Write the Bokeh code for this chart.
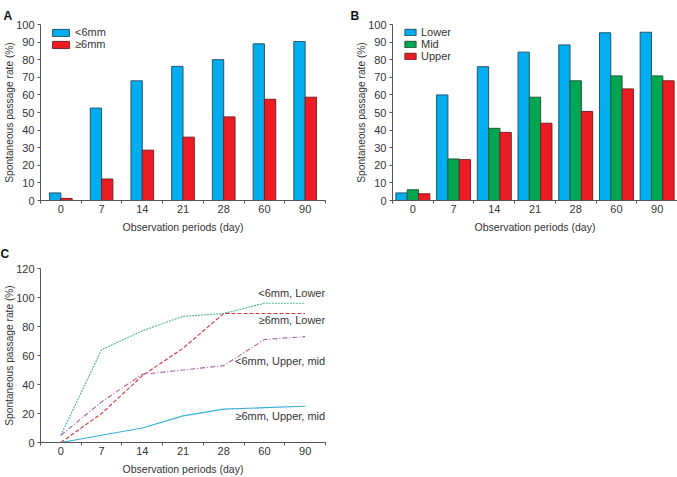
import numpy as np
from bokeh.plotting import figure
from bokeh.layouts import column, row
from bokeh.models import Range1d, FixedTicker, Legend, LegendItem
from bokeh.embed import file_html
from bokeh.resources import INLINE
from bokeh.core.properties import value

# ---------------- data ----------------
periods = ["0", "7", "14", "21", "28", "60", "90"]

# Panel A: by stone size
a_lt6 = [4.3, 52.5, 68.0, 76.2, 80.0, 89.0, 90.3]
a_ge6 = [1.2, 12.2, 28.6, 36.0, 47.5, 57.5, 58.7]

# Panel B: by location
b_lower = [4.3, 60.0, 76.0, 84.3, 88.4, 95.3, 95.6]
b_mid = [6.1, 23.6, 41.0, 58.7, 68.0, 70.8, 70.8]
b_upper = [3.8, 23.2, 38.7, 43.9, 50.6, 63.4, 68.0]

# Panel C: size x location
c_lt6_lower = [5.0, 64.0, 77.0, 87.0, 89.0, 96.0, 96.0]
c_ge6_lower = [0.0, 20.0, 46.0, 65.0, 89.0, 89.0, 89.0]
c_lt6_upmid = [5.0, 28.0, 47.0, 50.0, 53.0, 71.0, 73.0]
c_ge6_upmid = [0.0, 5.0, 10.0, 18.4, 23.0, 24.0, 25.0]
c_labels = ["<6mm, Lower", "\u22656mm, Lower", "<6mm, Upper, mid", "\u22656mm, Upper, mid"]
c_label_y = [103.4, 84.2, 56.2, 18.5]

FONT = "Liberation Sans"
TXT = "#333333"
AX = "#555555"
BLUE, BLUE_D = "#00AEEF", "#24566e"
RED, RED_D = "#ED1C24", "#7a1f22"
GREEN, GREEN_D = "#00A651", "#1d5a36"


def make_fig(letter, width, height, left, right, top, bottom, ymax, ystep, title_offset, title_standoff):
    n = len(periods)
    p = figure(width=width, height=height, output_backend="svg", toolbar_location=None,
               x_range=Range1d(0, n), y_range=Range1d(0, ymax),
               min_border_left=left, min_border_right=right,
               min_border_top=top, min_border_bottom=bottom, title=letter)
    p.outline_line_color = None
    p.grid.visible = False
    p.background_fill_color = "white"
    p.border_fill_color = "white"

    p.title.align = "left"
    p.title.vertical_align = "top"
    p.title.offset = title_offset
    p.title.standoff = title_standoff
    p.title.text_font = FONT
    p.title.text_font_size = "12px"
    p.title.text_font_style = "bold"
    p.title.text_color = "#111111"

    pos = np.arange(n) + 0.5
    xa = p.xaxis[0]
    xa.ticker = FixedTicker(ticks=list(pos), minor_ticks=list(range(n + 1)))
    xa.major_label_overrides = {float(x): lab for x, lab in zip(pos, periods)}
    xa.major_tick_line_color = None
    xa.major_tick_out = 0
    xa.major_tick_in = 0
    xa.minor_tick_line_color = AX
    xa.minor_tick_out = 3
    xa.minor_tick_in = 0
    xa.major_label_standoff = 1
    xa.axis_line_color = AX
    xa.axis_label = "Observation periods (day)"
    xa.axis_label_standoff = 5

    ya = p.yaxis[0]
    ya.ticker = FixedTicker(ticks=list(range(0, ymax + 1, ystep)))
    ya.major_tick_out = 3
    ya.major_tick_in = 0
    ya.major_tick_line_color = AX
    ya.minor_tick_line_color = None
    ya.major_label_standoff = 3
    ya.axis_line_color = AX
    ya.axis_label = "Spontaneous passage rate (%)"
    ya.axis_label_standoff = -2

    for ax in (xa, ya):
        ax.major_label_text_font = FONT
        ax.major_label_text_font_size = "11px"
        ax.major_label_text_color = TXT
        ax.axis_label_text_font = FONT
        ax.axis_label_text_font_size = "10.5px"
        ax.axis_label_text_font_style = "normal"
        ax.axis_label_text_color = TXT
    ya.axis_label_text_font_size = "10.2px"
    return p, pos


# ---------------- Panel A ----------------
pa, pos = make_fig("A", 340, 240, 40, 15, 24, 40, 100, 10, -37, 0)
w = 0.278
ra1 = pa.vbar(x=pos - w / 2, top=a_lt6, width=w, fill_color=BLUE, line_color=BLUE_D, line_width=1)
ra2 = pa.vbar(x=pos + w / 2, top=a_ge6, width=w, fill_color=RED, line_color=RED_D, line_width=1)
leg_a = Legend(items=[LegendItem(label="<6mm", renderers=[ra1]),
                      LegendItem(label="\u22656mm", renderers=[ra2])],
               location=(10, 150), padding=0, margin=0, spacing=0,
               glyph_width=21, glyph_height=9, label_height=9, label_standoff=4,
               label_text_font=FONT, label_text_font_size="11px", label_text_color=TXT,
               border_line_color=None, background_fill_alpha=0)
pa.add_layout(leg_a)

# ---------------- Panel B ----------------
pb, pos = make_fig("B", 337, 240, 52, 0, 24, 40, 100, 10, -42, 0)
rb1 = pb.vbar(x=pos - w, top=b_lower, width=w, fill_color=BLUE, line_color=BLUE_D, line_width=1)
rb2 = pb.vbar(x=pos, top=b_mid, width=w, fill_color=GREEN, line_color=GREEN_D, line_width=1)
rb3 = pb.vbar(x=pos + w, top=b_upper, width=w, fill_color=RED, line_color=RED_D, line_width=1)
leg_b = Legend(items=[LegendItem(label="Lower", renderers=[rb1]),
                      LegendItem(label="Mid", renderers=[rb2]),
                      LegendItem(label="Upper", renderers=[rb3])],
               location=(11, 138), padding=0, margin=0, spacing=0,
               glyph_width=14, glyph_height=8, label_height=9, label_standoff=4,
               label_text_font=FONT, label_text_font_size="11px", label_text_color=TXT,
               border_line_color=None, background_fill_alpha=0)
pb.add_layout(leg_b)

# ---------------- Panel C ----------------
pc, pos = make_fig("C", 340, 237, 40, 15, 28, 34, 120, 20, -40, 12)
pc.line(pos, c_lt6_lower, line_color="#4fb58e", line_width=1.1, line_dash="2 1")
pc.line(pos, c_ge6_lower, line_color="#d0363c", line_width=1.1, line_dash="4 2")
pc.line(pos, c_lt6_upmid, line_color="#a8609e", line_width=1.1, line_dash="5 2 1 2")
pc.line(pos, c_ge6_upmid, line_color="#3ab0d8", line_width=1.2)
pc.text(x=[pos[-1]] * len(c_labels), y=c_label_y, text=c_labels, x_offset=20,
        text_align="right", text_baseline="middle", text_font=value(FONT),
        text_font_size="11px", text_color=TXT)

layout = column(row(pa, pb), pc)
open("out.html", "w").write(file_html(layout, INLINE))
